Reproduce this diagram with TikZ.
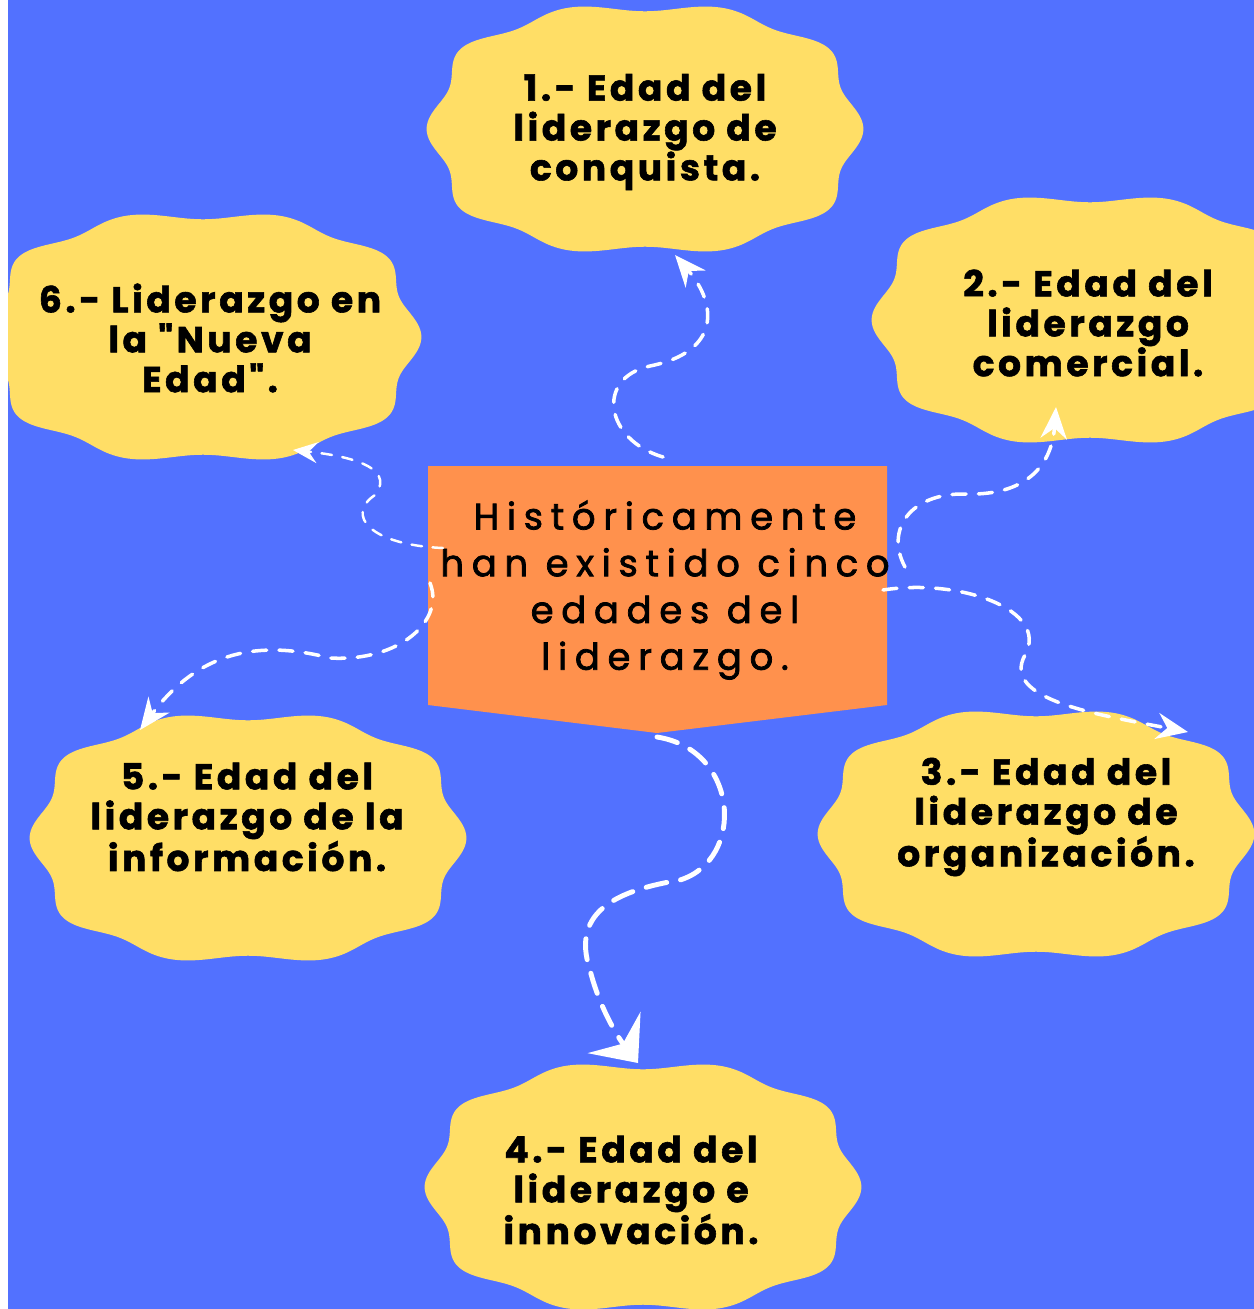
\documentclass[tikz,border=0pt]{standalone}
\usepackage{fontspec}
\setmainfont{Poppins}
\newfontfamily\centerfont{Poppins}[LetterSpace=21,FakeBold=2]
\newfontfamily\cloudfont{Poppins}[LetterSpace=10,FakeBold=1.6]
\usetikzlibrary{arrows.meta}
\definecolor{bgblue}{HTML}{5271FF}
\definecolor{cloudy}{HTML}{FFDE66}
\definecolor{boxorange}{HTML}{FF914D}
\tikzset{
  cloudtext/.style={font=\cloudfont\bfseries\fontsize{20.5}{22.7}\selectfont, align=center, text=black, inner sep=0pt},
  centertext/.style={font=\centerfont\fontsize{21}{26.6}\selectfont, align=center, text=black, inner sep=0pt},
  conn/.style={white, line cap=round, line width=2pt, dash pattern=on 8pt off 7pt,
    -{Stealth[length=18pt,width=15pt,inset=6pt]}},
  connthin/.style={conn, line width=1.4pt, dash pattern=on 6pt off 6pt,
    -{Stealth[length=14pt,width=12pt,inset=5pt]}},
  connbig/.style={conn, line width=2.8pt, dash pattern=on 12pt off 8pt,
    -{Stealth[length=22pt,width=38pt,inset=8pt]}},
}
\newcommand\mycloud[2]{%
  \fill[cloudy] plot[domain=0:359, samples=360, smooth cycle]
    ({#1+211*(1+0.035*cos(10*\x))*(cos(\x)-0.03*cos(3*\x))/0.97},
     {#2+122*(1+0.035*cos(10*\x))*(sin(\x)+0.03*sin(3*\x))/0.97});}
\begin{document}
\begin{tikzpicture}[x=0.02cm,y=-0.02cm]
\useasboundingbox (0,0) rectangle (1254,1309);
\fill[white] (0,0) rectangle (1254,1309);
\fill[bgblue] (8,0) rectangle (1254,1309);
\begin{scope}
  \clip (8,0) rectangle (1254,1309);
  \mycloud{645}{129}
  \mycloud{1090}{320}
  \mycloud{1036}{834}
  \mycloud{643}{1187}
  \mycloud{248}{838}
  \mycloud{203}{337}
\end{scope}
% central box
\fill[boxorange] (428,466) -- (887,466) -- (887,705) -- (657,733) -- (428,705) -- cycle;
\node[centertext] (center) at (665,590) {Históricamente\\han existido cinco\\edades del\\liderazgo.};
% cloud texts
\node[cloudtext] (c1) at (645,132) {1.- Edad del\\liderazgo de\\conquista.};
\node[cloudtext] (c2) at (1088,323) {2.- Edad del\\liderazgo\\comercial.};
\node[cloudtext] (c3) at (1046,817) {3.- Edad del\\liderazgo de\\organización.};
\node[cloudtext] (c4) at (631,1190) {4.- Edad del\\liderazgo e\\innovación.};
\node[cloudtext] (c5) at (247,817) {5.- Edad del\\liderazgo de la\\información.};
\node[cloudtext] (c6) at (210,338) {6.- Liderazgo en\\la "Nueva\\Edad".};
% connector end points
\coordinate (s1) at (663,457);  \coordinate (e1) at (675,255);
\coordinate (s2) at (905,567);  \coordinate (e2) at (1056,407);
\coordinate (s3) at (883,590);  \coordinate (e3) at (1188,732);
\coordinate (s4) at (657,737);  \coordinate (e4) at (638,1063);
\coordinate (s5) at (430,583);  \coordinate (e5) at (140,730);
\coordinate (s6) at (443,548);  \coordinate (e6) at (293,450);
% connectors
\draw[conn] (s1) .. controls (605,440) and (595,378) .. (650,366)
  .. controls (720,352) and (718,305) .. (e1);
\draw[conn] (s2) .. controls (885,530) and (910,493) .. (965,494)
  .. controls (1030,496) and (1052,462) .. (e2);
\draw[conn] (s3) .. controls (960,578) and (1050,610) .. (1025,655)
  .. controls (1000,700) and (1100,715) .. (e3);
\draw[connbig] (s4) .. controls (740,750) and (745,860) .. (680,880)
  .. controls (620,890) and (570,910) .. (590,970)
  .. controls (600,1010) and (620,1040) .. (e4);
\draw[conn] (s5) .. controls (445,620) and (400,662) .. (330,658)
  .. controls (260,640) and (200,650) .. (e5);
\draw[connthin] (s6) .. controls (370,545) and (345,515) .. (375,495)
  .. controls (398,465) and (340,455) .. (e6);
\end{tikzpicture}
\end{document}
